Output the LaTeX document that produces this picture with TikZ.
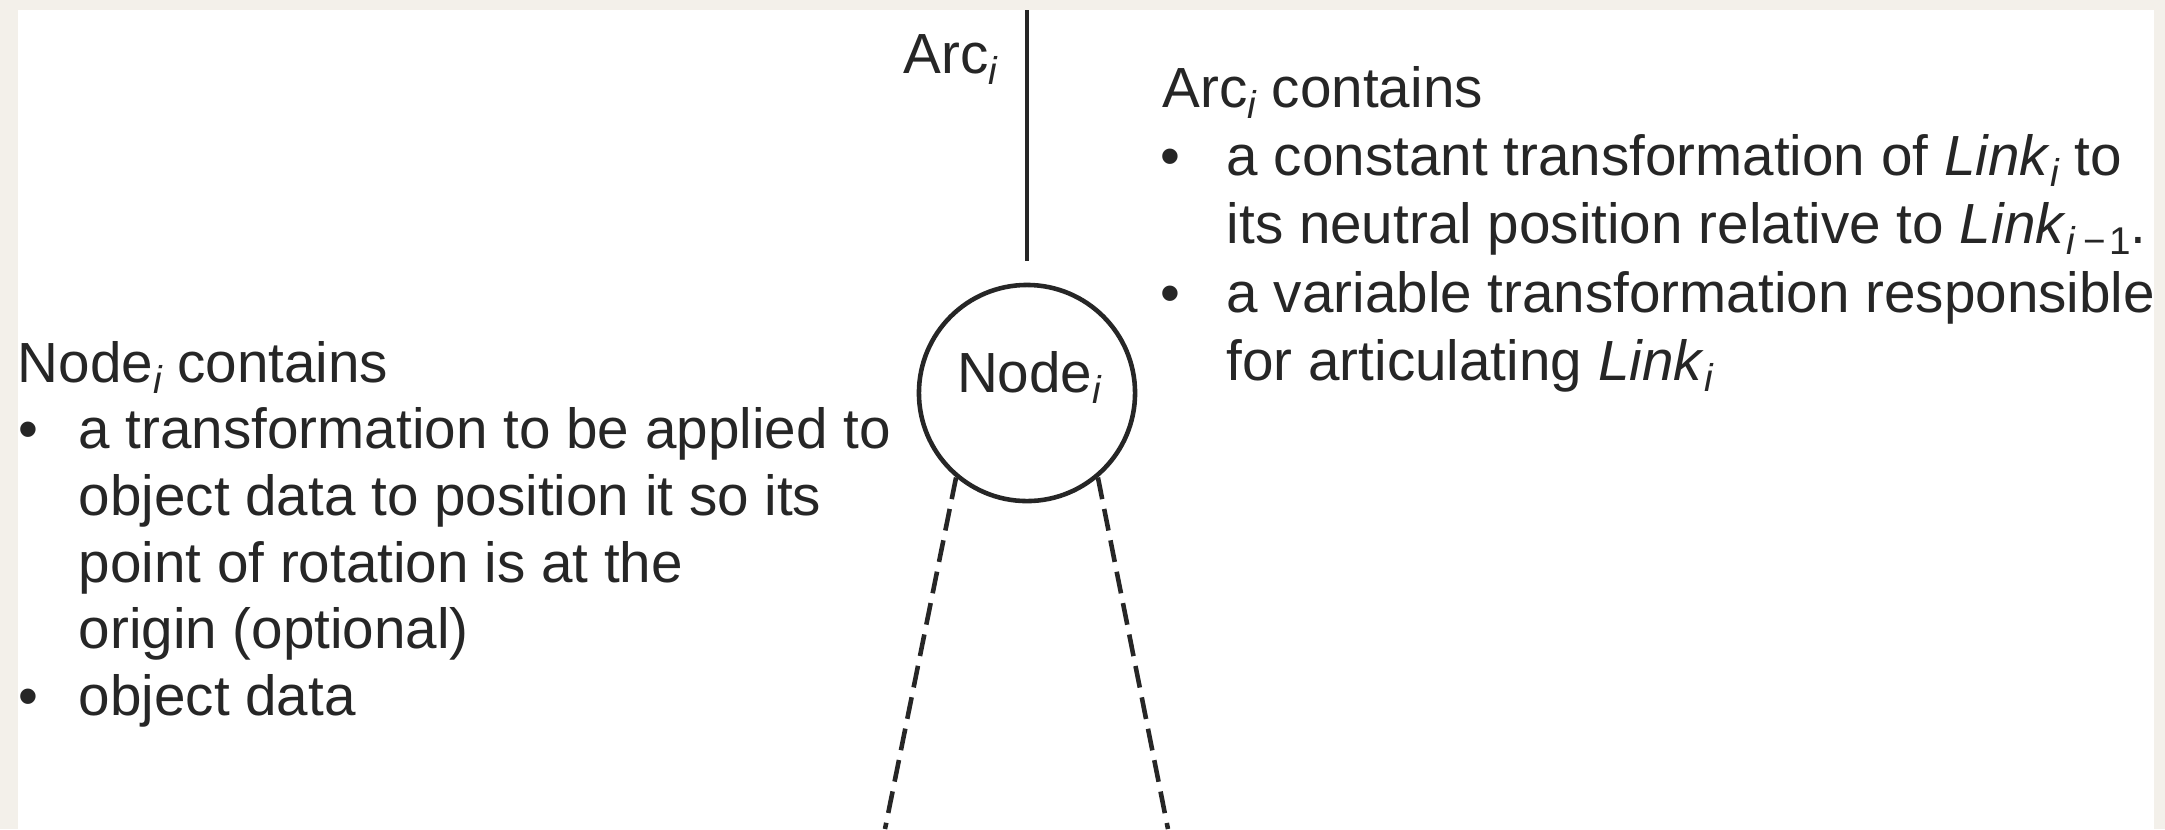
\documentclass[tikz,border=0pt]{standalone}
\usepackage{fontspec}
\setmainfont{Liberation Sans}
\definecolor{ink}{HTML}{262626}
\definecolor{paper}{HTML}{F3F0EA}
\newcommand{\subsc}[1]{\raisebox{-0.11cm}{\fontsize{11pt}{11pt}\selectfont #1}}
\newcommand{\sbi}{\subsc{\itshape i}}
\newcommand{\sbim}{\subsc{\itshape i\upshape\hspace{0.09cm}−\hspace{0.03cm}1}}
\begin{document}
\begin{tikzpicture}[x=0.01cm,y=-0.01cm,
  txt/.style={anchor=base west, inner sep=0pt, text=ink, font=\fontsize{16.1pt}{19pt}\selectfont},
  wire/.style={draw=ink, line width=1.3pt},
  dashwire/.style={wire, dash pattern=on 0.22cm off 0.1cm}]
\useasboundingbox (0,0) rectangle (2165,829);
\fill[paper] (0,0) rectangle (2165,829);
\fill[white] (18,10) rectangle (2154,829);
\begin{scope}
\clip (18,10) rectangle (2154,829);
% graph
\node[circle, wire, minimum size=2.16cm, inner sep=0pt] (nodei) at (1027,393) {};
\node[txt, anchor=base] (nodetxt) at (1029,392) {Node\sbi};
\coordinate (arctop) at (1027,0);
\draw[wire, shorten >=0.22cm] (arctop) -- (nodei.north);
\coordinate (legL) at (885,829);
\coordinate (legR) at (1168,829);
\draw[dashwire] (nodei.-130) -- (legL);
\draw[dashwire] (nodei.-50) -- (legR);
\node[txt] (arclabel) at (903,73) {Arc\sbi};
% right block
\node[txt] (archead) at (1162,107) {Arc\sbi{} contains};
\node[txt] (arcb1) at (1160,175) {•};
\node[txt] (arcl1) at (1226,175) {a constant transformation of \textit{Link}\sbi{} to};
\node[txt] (arcl2) at (1226,243) {its neutral position relative to \textit{Link}\sbim.};
\node[txt] (arcb2) at (1160,312) {•};
\node[txt] (arcl3) at (1226,312) {a variable transformation responsible};
\node[txt] (arcl4) at (1226,380) {for articulating \textit{Link}\sbi};
% left block
\node[txt] (nodehead) at (17,382) {Node\sbi{} contains};
\node[txt] (nodeb1) at (18,448) {•};
\node[txt] (nodel1) at (78,448) {a transformation to be applied to};
\node[txt] (nodel2) at (78,515) {object data to position it so its};
\node[txt] (nodel3) at (78,582) {point of rotation is at the};
\node[txt] (nodel4) at (78,648) {origin (optional)};
\node[txt] (nodeb2) at (18,715) {•};
\node[txt] (nodel5) at (78,715) {object data};
\end{scope}
\end{tikzpicture}
\end{document}
